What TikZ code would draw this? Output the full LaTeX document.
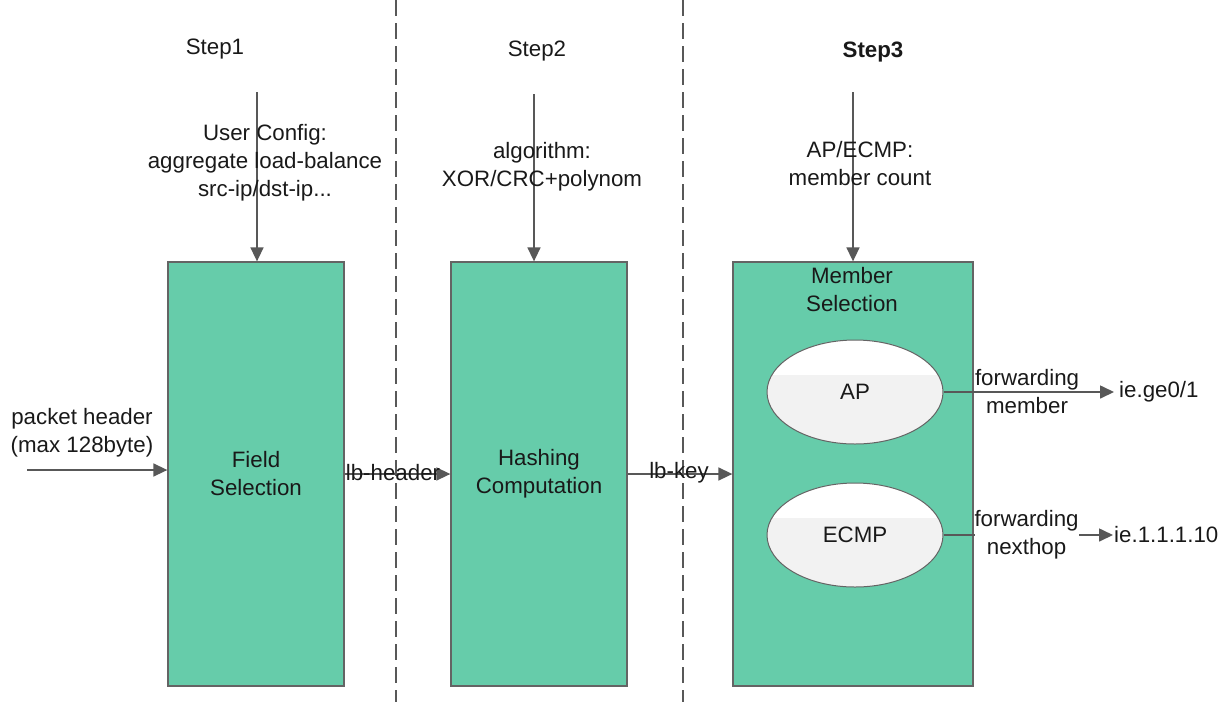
\documentclass[tikz,border=0pt]{standalone}
\usepackage{fontspec}
\setmainfont{Liberation Sans}
\usetikzlibrary{arrows.meta,shapes.geometric}
\definecolor{boxgreen}{RGB}{102,204,170}
\definecolor{linegray}{RGB}{88,88,88}
\definecolor{bordergray}{RGB}{100,100,100}
\definecolor{ellgray}{RGB}{242,242,242}
\definecolor{txt}{RGB}{25,25,25}
\begin{document}
\begin{tikzpicture}[x=1pt,y=-1pt,
  font=\fontsize{22.3}{28}\selectfont, text=txt,
  stage/.style={draw=bordergray, line width=1.3pt, fill=boxgreen, minimum height=424pt, inner sep=0pt, align=center},
  member/.style={ellipse, draw=bordergray, line width=1pt, fill=ellgray, minimum width=176pt, minimum height=104pt, inner sep=0pt,
    path picture={\fill[white] (path picture bounding box.north west) rectangle ([yshift=-35pt]path picture bounding box.north east);}},
  lbl/.style={inner sep=0pt, align=center},
  arr/.style={draw=linegray, line width=1.6pt, -{Triangle[length=14pt,width=13pt]}},
  divider/.style={draw=linegray, line width=1.3pt, dash pattern=on 16pt off 7pt}]

\useasboundingbox (0,0) rectangle (1228,702);

% dividers
\coordinate (d1t) at (396,0); \coordinate (d1b) at (396,702);
\coordinate (d2t) at (683,0); \coordinate (d2b) at (683,702);
\draw[divider] (d1t) -- (d1b);
\draw[divider] (d2t) -- (d2b);

% stage boxes
\node[stage, minimum width=176pt] (fs) at (256,474) {Field\\Selection};
\node[stage, minimum width=176pt] (hc) at (539,474) {Hashing\\Computation};
\node[stage, minimum width=240pt] (ms) at (853,474) {};
\node[lbl] (mstitle) at (852,290) {Member\\Selection};

% ellipses
\node[member] (ap) at (855,392) {AP};
\node[member] (ecmp) at (855,535) {ECMP};

% step titles
\node[lbl] (step1) at (215,49) {Step1};
\node[lbl] (step2) at (537,51) {Step2};
\node[lbl, font=\fontsize{22.3}{28}\selectfont\bfseries] (step3) at (873,52) {Step3};

% top inputs
\coordinate (in1) at (257,92);
\coordinate (in2) at (534,94);
\coordinate (in3) at (853,92);
\draw[arr] (in1) -- (in1 |- fs.north);
\draw[arr] (in2) -- (in2 |- hc.north);
\draw[arr] (in3) -- (in3 |- ms.north);
\node[lbl] (cfg1) at (265,163) {User Config:\\aggregate load-balance\\src-ip/dst-ip...};
\node[lbl] (cfg2) at (542,167) {algorithm:\\XOR/CRC+polynom};
\node[lbl] (cfg3) at (860,164) {AP/ECMP:\\member count};

% packet input
\coordinate (pin) at (27,470);
\draw[arr] (pin) -- (pin -| fs.west);
\node[lbl] (ph) at (82,433) {packet header\\(max 128byte)};

% between stages
\draw[arr] (fs.east) -- (hc.west);
\node[lbl] (lbh) at (393,473) {lb-header};
\draw[arr] (hc.east) -- (ms.west);
\node[lbl] (lbk) at (679,473) {lb-key};

% outputs
\node[lbl, anchor=west] (ge) at (1119,392) {ie.ge0/1};
\node[lbl, anchor=west] (nh) at (1114,535) {ie.1.1.1.10};
\draw[arr] (ap.east) -- ([xshift=-5pt]ge.west)
  node[lbl, pos=0.49] (fm) {forwarding\\member};
\draw[arr] (ecmp.east) -- ([xshift=-1pt]nh.west)
  node[lbl, pos=0.49, fill=white] (fn) {forwarding\\nexthop};
\end{tikzpicture}
\end{document}
